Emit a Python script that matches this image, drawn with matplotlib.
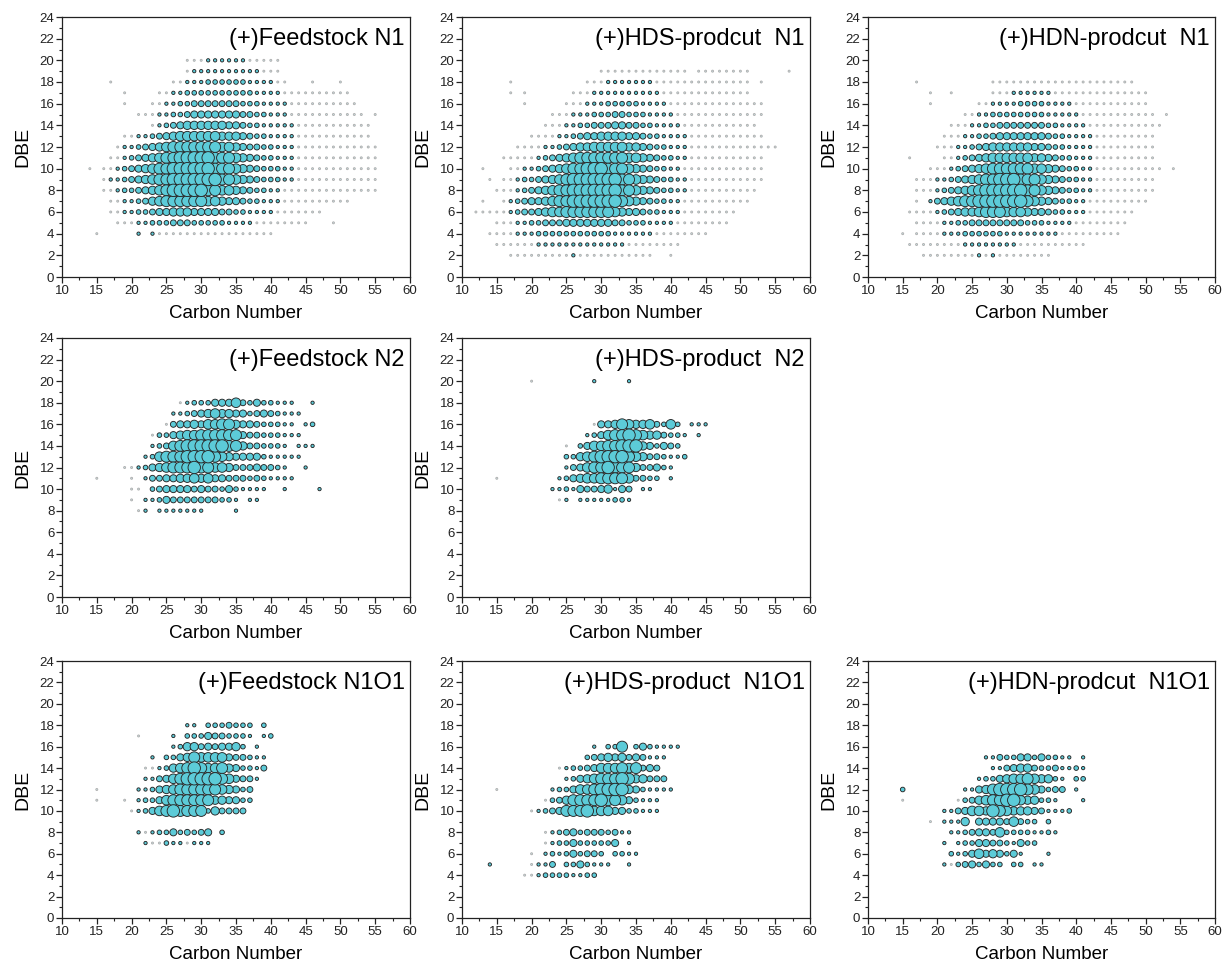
import matplotlib
matplotlib.use("Agg")
import matplotlib.pyplot as plt
from matplotlib.ticker import MultipleLocator

plt.rcParams['font.family'] = ['Liberation Sans', 'DejaVu Sans']

# Rows: DBE -> relative abundance level per carbon number (0 = none, 9 = biggest).
# Each string starts at carbon number 10, spaces only group carbons by five.
C_START = 10

feed_n1 = {
    20: "00000 00000 00000 00011 12222 22111 11",
    19: "00000 00000 00000 00012 22222 22221 11",
    18: "00000 00100 00000 01122 23333 33222 21100 01000 1",
    17: "00000 00001 00001 12233 33333 33322 22111 11111 11",
    16: "00000 00001 00011 22334 44444 43332 22211 11111 111",
    15: "00000 00000 01112 23345 55555 54433 22211 11111 11110 1",
    14: "00000 00000 00012 34566 66665 54332 22221 11111 11111",
    13: "00000 00001 12234 56777 77766 65433 22221 11111 11111",
    12: "00000 00012 23456 78888 88877 65443 32221 11111 11111 1",
    11: "00000 00112 34567 88999 99888 76543 32221 11111 11111 1",
    10: "00001 01123 45678 89999 99888 76543 33221 11111 11111 1",
    9:  "00000 01223 45678 89999 99988 76543 33221 11111 11111 1",
    8:  "00000 01123 34567 89999 98877 65433 22111 11111 11111 1",
    7:  "00000 00112 23467 88888 87765 54332 22111 11111 11",
    6:  "00000 00112 23345 56665 55544 33222 21111 111",
    5:  "00000 00011 12233 34443 33332 22211 11111 10001",
    4:  "00000 10000 02021 11111 11111 11111 1",
}

hds_n1 = {
    19: "00000 00000 00000 00000 11111 11111 11101 11111 11000 00100",
    18: "00000 00100 00000 00011 12222 22211 11111 11111 11010",
    17: "00000 00101 00000 01112 22222 22221 11111 11111 11",
    16: "00000 00001 00000 11122 23333 32222 11111 11111 1111",
    15: "00000 00000 00011 12223 33443 33222 21111 11111 1111",
    14: "00000 00000 00111 22334 44554 43322 22111 11111 111",
    13: "00000 00000 11112 23455 66665 54332 22211 11111 1111",
    12: "00000 00011 11223 45667 77776 65433 22211 11111 11111 1",
    11: "00000 01111 12345 67888 88887 76543 32211 11111 1111",
    10: "00010 00112 23456 78899 98887 65433 22111 11111 1111",
    9:  "00001 01123 34567 89999 99988 76543 32211 11111 1111",
    8:  "00000 11123 45678 89999 99988 76543 32211 11111 111",
    7:  "00010 01234 55678 89999 99987 65433 22111 11111 11",
    6:  "00111 11234 45677 88888 88765 54332 22111 11111",
    5:  "00000 11122 33444 55555 55443 33222 21111 1111",
    4:  "00001 11122 23333 33333 33222 22211 11111 1",
    3:  "00000 11111 12222 22222 22221 11111 11",
    2:  "00000 00111 11111 12111 11111 11100 1",
}

hdn_n1 = {
    18: "00000 00100 00000 00011 11111 11111 11111 1111",
    17: "00000 00001 00100 00011 12222 22111 11111 11111 1",
    16: "00000 00001 00000 01122 22333 32222 11111 11111 1",
    15: "00000 00000 00001 12233 33333 32222 21111 11111 11010",
    14: "00000 00000 00111 22334 44444 43322 22111 11111 111",
    13: "00000 00000 01112 23345 55555 54332 22211 11111 11",
    12: "00000 00000 11122 34566 66665 54332 22211 11111 11",
    11: "00000 01000 01123 45677 77776 65433 22211 11111 11",
    10: "00000 00001 11234 56788 88887 76543 32211 11111 11101",
    9:  "00000 00111 22345 67889 99888 76543 32211 11111 11",
    8:  "00000 00111 23456 78999 99988 76543 32211 11111 11",
    7:  "00000 00102 45678 89999 99987 65433 22111 11111 1",
    6:  "00000 01111 23456 67888 77765 54332 22111 1111",
    5:  "00000 00111 12233 44444 44433 32222 11111 111",
    4:  "00000 10111 12223 33333 22222 22211 11111 11",
    3:  "00000 01111 11112 22222 22111 11111 11",
    2:  "00000 00011 11111 12121 11111 11",
}

feed_n2 = {
    18: "00000 00000 00000 00123 33555 74353 32220 02",
    17: "00000 00000 00000 02234 56766 55345 43222",
    16: "00000 00000 00000 14556 57788 65543 33220 23",
    15: "00000 00000 00013 35677 88888 85443 33222",
    14: "00000 00000 00023 47899 99998 86443 33202 22",
    13: "00000 00000 00237 88899 99876 55553 22222",
    12: "00000 00001 12356 78889 88776 44454 43200 2",
    11: "00000 10000 10244 55667 67554 44343 22220",
    10: "00000 00000 11034 55554 54435 32222 00200 00200",
    9:  "00000 00000 10223 54444 44433 20220",
    8:  "00000 00000 01202 22222 20000 2",
}

hds_n2 = {
    20: "00000 00000 10000 00002 00002",
    16: "00000 00000 00000 00001 55687 66743 73022 2",
    15: "00000 00000 00000 00023 57889 87664 33202",
    14: "00000 00000 00000 10357 78899 96535 43",
    13: "00000 00000 00000 33678 99998 76443 223",
    12: "00000 00000 00000 24578 89888 64453 2",
    11: "00000 10000 00002 35677 88887 44330 2",
    10: "00000 00000 00022 32544 56254 022",
    9:  "00000 00000 00001 20222 22332",
}

feed_n1o1 = {
    18: "00000 00000 00000 00022 03334 33303",
    17: "00000 00000 01000 02033 35443 33202 3",
    16: "00000 00000 00000 02366 45455 6302",
    15: "00000 00000 00020 33568 77775 44322",
    14: "00000 00000 00112 36789 87786 53324",
    13: "00000 00000 00224 57899 99987 5442",
    12: "00000 10000 02235 67888 88876 534",
    11: "00000 10001 02335 78888 88665 533",
    10: "00000 00000 12357 89888 83644 44",
    8:  "00000 00000 02123 35343 4503",
    7:  "00000 00000 00211 32212 22",
}

hds_n1o1 = {
    16: "00000 00000 00000 00002 03380 35322 22",
    15: "00000 00000 00000 00034 56564 54222",
    14: "00000 00000 00001 23345 77787 8454",
    13: "00000 00000 00000 23567 88898 66444",
    12: "00000 10000 00023 35778 99996 53222 2",
    11: "00000 00000 00134 68888 98875 3222",
    10: "00000 00000 12345 88897 77553 3222",
    8:  "00000 00000 00123 45344 43422",
    7:  "00000 00000 00123 35333 33502",
    6:  "00000 00000 10232 35344 30332 2",
    5:  "00002 00000 12240 33532 22002",
    4:  "00000 00001 12333 32233",
}

hdn_n1o1 = {
    15: "00000 00000 00000 00224 33553 53322 02",
    14: "00000 00000 00000 00022 45664 33422 32",
    13: "00000 00000 00000 02335 67787 66320 33",
    12: "00000 30000 00002 25689 99987 53440 2",
    11: "00000 10000 00013 46788 99766 33200 02",
    10: "00000 00000 02245 77698 76665 42223",
    9:  "00000 00001 02226 05555 47433 03",
    8:  "00000 00000 00223 45547 33332 232",
    7:  "00000 00000 02023 35544 32533",
    6:  "00000 00000 00323 57565 35200 02",
    5:  "00000 00000 02134 53533 03302 2",
}

titles = [
    "(+)Feedstock N1", "(+)HDS-prodcut  N1", "(+)HDN-prodcut  N1",
    "(+)Feedstock N2", "(+)HDS-product  N2", None,
    "(+)Feedstock N1O1", "(+)HDS-product  N1O1", "(+)HDN-prodcut  N1O1",
]
panels = [feed_n1, hds_n1, hdn_n1, feed_n2, hds_n2, None,
          feed_n1o1, hds_n1o1, hdn_n1o1]

# bubble diameter in pixels for each level
diam_px = [0, 2.0, 3.3, 4.6, 5.9, 7.1, 8.3, 9.6, 11.0, 12.4]

W, H = 1224, 968
fig = plt.figure(figsize=(W / 100, H / 100), dpi=100)

col_left = [62, 462, 868]
col_w = [348, 348, 347]
row_top = [17, 338, 661]
row_h = [260, 259, 257]


def unpack(rows):
    xs, ys, lv = [], [], []
    for dbe, s in rows.items():
        for i, ch in enumerate(s.replace(" ", "")):
            if ch != "0":
                xs.append(C_START + i)
                ys.append(dbe)
                lv.append(int(ch))
    return xs, ys, lv


for k, (rows, title) in enumerate(zip(panels, titles)):
    if rows is None:
        continue
    r, c = divmod(k, 3)
    l, t, w, h = col_left[c], row_top[r], col_w[c], row_h[r]
    ax = fig.add_axes([l / W, 1 - (t + h) / H, w / W, h / H])

    xs, ys, lv = unpack(rows)
    # draw small first so big bubbles sit on top
    order = sorted(range(len(lv)), key=lambda i: lv[i])
    xs = [xs[i] for i in order]
    ys = [ys[i] for i in order]
    lv = [lv[i] for i in order]
    sizes = [(diam_px[v] * 0.72) ** 2 for v in lv]
    edges = ["#b0b0b0" if v == 1 else "#262626" for v in lv]
    faces = ["#c8dfe2" if v == 1 else "#5ccbd8" for v in lv]
    ax.scatter(xs, ys, s=sizes, c=faces, edgecolors=edges, linewidths=0.65)

    ax.set_xlim(10, 60)
    ax.set_ylim(0, 24)
    ax.xaxis.set_major_locator(MultipleLocator(5))
    ax.xaxis.set_minor_locator(MultipleLocator(2.5))
    ax.yaxis.set_major_locator(MultipleLocator(2))
    ax.yaxis.set_minor_locator(MultipleLocator(1))
    ax.tick_params(which="major", direction="out", length=4, width=0.9,
                   labelsize=9.5, pad=1.5, colors="#222222")
    ax.tick_params(which="minor", direction="out", length=2.2, width=0.8,
                   colors="#222222")
    for sp in ax.spines.values():
        sp.set_linewidth(0.9)
        sp.set_color("#222222")
    ax.set_xlabel("Carbon Number", fontsize=13.5, labelpad=6)
    ax.set_ylabel("DBE", fontsize=14, labelpad=6)
    ax.text(0.985, 0.915, title, transform=ax.transAxes, ha="right",
            va="center", fontsize=17)

fig.savefig("out.png", dpi=100)
